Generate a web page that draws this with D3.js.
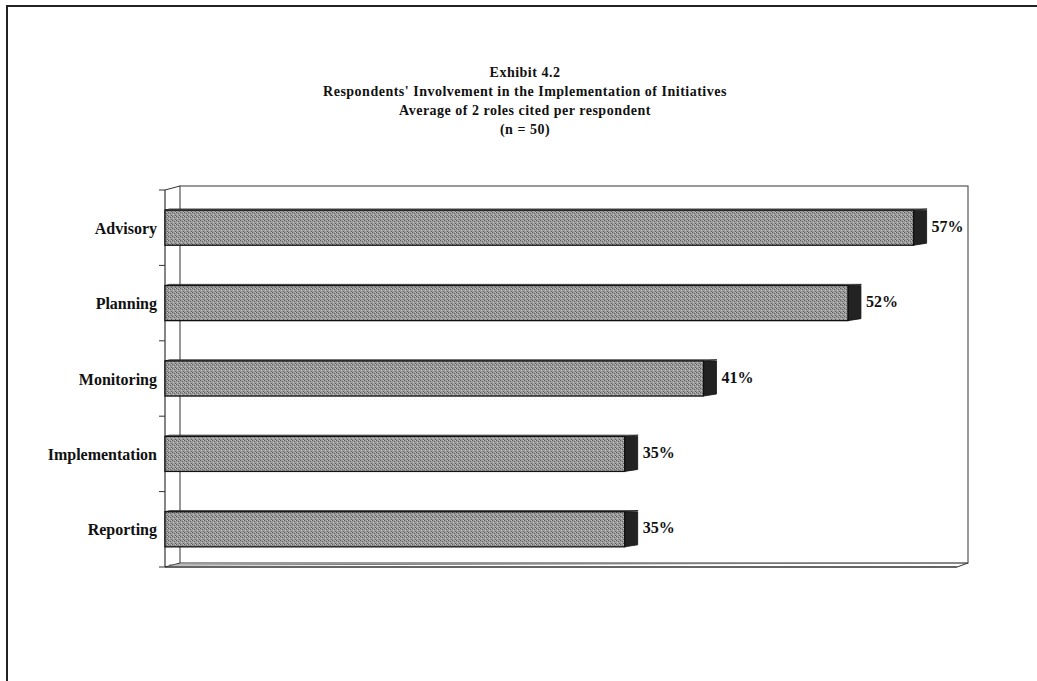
<!DOCTYPE html>
<html>
<head>
<meta charset="utf-8">
<script src="https://cdn.jsdelivr.net/npm/d3@7"></script>
<style>
  body { margin: 0; background: #fff; }
  svg text { font-family: "Liberation Serif", "DejaVu Serif", serif; font-weight: bold; fill: #111; }
</style>
</head>
<body>
<svg id="chart" width="1037" height="681"></svg>
<script>
// roles and share of respondents citing them
var roles = ["Advisory", "Planning", "Monitoring", "Implementation", "Reporting"];
var shares = [57, 52, 41, 35, 35];
var valueLabels = ["57%", "52%", "41%", "35%", "35%"];
var titleLines = [
    "Exhibit 4.2",
    "Respondents' Involvement in the Implementation of Initiatives",
    "Average of 2 roles cited per respondent",
    "(n = 50)"
];

var svg = d3.select("#chart");

// outer frame (top + left edges only are visible in the scan)
svg.append("path")
    .attr("d", "M7,681 V6 H1037")
    .attr("fill", "none")
    .attr("stroke", "#222")
    .attr("stroke-width", 2);

// titles
svg.selectAll("text.title")
    .data(titleLines)
    .enter().append("text")
    .attr("class", "title")
    .attr("x", 525)
    .attr("y", function (d, i) { return 77 + i * 19; })
    .attr("text-anchor", "middle")
    .attr("font-size", "14px")
    .attr("letter-spacing", "0.5px")
    .text(function (d) { return d; });

// plot geometry
var plotLeft = 165, plotTop = 190, plotBottom = 567;
var depthX = 15, depthY = -4;

var x = d3.scaleLinear().domain([0, 60]).range([plotLeft, plotLeft + 788]);
var y = d3.scaleBand().domain(roles).range([plotTop, plotBottom]).paddingInner(0.535).paddingOuter(0.2675);

// grainy fill, like the halftone of the original
var defs = svg.append("defs");
var pat = defs.append("pattern")
    .attr("id", "grain")
    .attr("width", 4).attr("height", 4)
    .attr("patternUnits", "userSpaceOnUse");
pat.append("rect").attr("width", 4).attr("height", 4).attr("fill", "#9b9b9b");
pat.append("rect").attr("x", 0).attr("y", 0).attr("width", 1).attr("height", 1).attr("fill", "#5e5e5e");
pat.append("rect").attr("x", 2).attr("y", 1).attr("width", 1).attr("height", 1).attr("fill", "#6a6a6a");
pat.append("rect").attr("x", 1).attr("y", 2).attr("width", 1).attr("height", 1).attr("fill", "#c4c4c4");
pat.append("rect").attr("x", 3).attr("y", 3).attr("width", 1).attr("height", 1).attr("fill", "#646464");
pat.append("rect").attr("x", 3).attr("y", 0).attr("width", 1).attr("height", 1).attr("fill", "#bdbdbd");

var g = svg.append("g");

// back wall
g.append("rect")
    .attr("x", plotLeft + depthX)
    .attr("y", plotTop + depthY)
    .attr("width", x(60) - plotLeft)
    .attr("height", plotBottom - plotTop)
    .attr("fill", "none")
    .attr("stroke", "#555")
    .attr("stroke-width", 1.2);

// side wall (left) edges
g.append("line")
    .attr("x1", plotLeft).attr("y1", plotTop)
    .attr("x2", plotLeft + depthX).attr("y2", plotTop + depthY)
    .attr("stroke", "#333");
g.append("line")
    .attr("x1", plotLeft).attr("y1", plotBottom)
    .attr("x2", plotLeft + depthX).attr("y2", plotBottom + depthY)
    .attr("stroke", "#333");

// floor front edge (double line)
g.append("line")
    .attr("x1", plotLeft).attr("y1", plotBottom)
    .attr("x2", x(60) + 4).attr("y2", plotBottom)
    .attr("stroke", "#333").attr("stroke-width", 1.5);
g.append("line")
    .attr("x1", plotLeft + 4).attr("y1", plotBottom - 2)
    .attr("x2", x(60) + depthX).attr("y2", plotBottom + depthY)
    .attr("stroke", "#777").attr("stroke-width", 1);
g.append("line")
    .attr("x1", x(60) + 4).attr("y1", plotBottom)
    .attr("x2", x(60) + depthX).attr("y2", plotBottom + depthY)
    .attr("stroke", "#333");

// category axis
g.append("line")
    .attr("x1", plotLeft).attr("y1", plotTop)
    .attr("x2", plotLeft).attr("y2", plotBottom)
    .attr("stroke", "#333").attr("stroke-width", 1.2);

var tickYs = roles.map(function (r) { return y(r) - y.step() * y.paddingInner() / 2; });
tickYs.push(plotBottom);
g.selectAll("line.tick")
    .data(tickYs)
    .enter().append("line")
    .attr("class", "tick")
    .attr("x1", plotLeft - 6).attr("x2", plotLeft)
    .attr("y1", function (d) { return d; })
    .attr("y2", function (d) { return d; })
    .attr("stroke", "#333");

g.selectAll("text.cat")
    .data(roles)
    .enter().append("text")
    .attr("class", "cat")
    .attr("x", 157)
    .attr("y", function (d) { return y(d) + y.bandwidth() / 2 + 6; })
    .attr("text-anchor", "end")
    .attr("font-size", "16px")
    .text(function (d) { return d; });

// bars: top face, side face, front face
var bars = g.selectAll("g.bar")
    .data(roles)
    .enter().append("g")
    .attr("class", "bar");

bars.append("path")
    .attr("d", function (d, i) {
        var x0 = plotLeft, x1 = x(shares[i]), y0 = y(d);
        return "M" + x0 + "," + y0 + "L" + (x0 + depthX * 0.3) + "," + (y0 + depthY * 0.3) +
            "L" + (x1 + depthX * 0.9) + "," + (y0 + depthY * 0.3) + "L" + x1 + "," + y0 + "Z";
    })
    .attr("fill", "#b0b0b0")
    .attr("stroke", "#222")
    .attr("stroke-width", 0.8);

bars.append("path")
    .attr("d", function (d, i) {
        var x1 = x(shares[i]), y0 = y(d), y1 = y(d) + y.bandwidth();
        return "M" + x1 + "," + y0 + "L" + (x1 + 13) + "," + y0 +
            "L" + (x1 + 13) + "," + (y1 - 2) + "L" + x1 + "," + y1 + "Z";
    })
    .attr("fill", "#222")
    .attr("stroke", "#111")
    .attr("stroke-width", 0.8);

bars.append("rect")
    .attr("x", plotLeft)
    .attr("y", function (d) { return y(d); })
    .attr("width", function (d, i) { return x(shares[i]) - plotLeft; })
    .attr("height", y.bandwidth())
    .attr("fill", "url(#grain)")
    .attr("stroke", "#111")
    .attr("stroke-width", 1.3);

g.selectAll("text.val")
    .data(roles)
    .enter().append("text")
    .attr("class", "val")
    .attr("x", function (d, i) { return x(shares[i]) + 18; })
    .attr("y", function (d) { return y(d) + y.bandwidth() / 2 + 4; })
    .attr("font-size", "16px")
    .text(function (d, i) { return valueLabels[i]; });
</script>
</body>
</html>
